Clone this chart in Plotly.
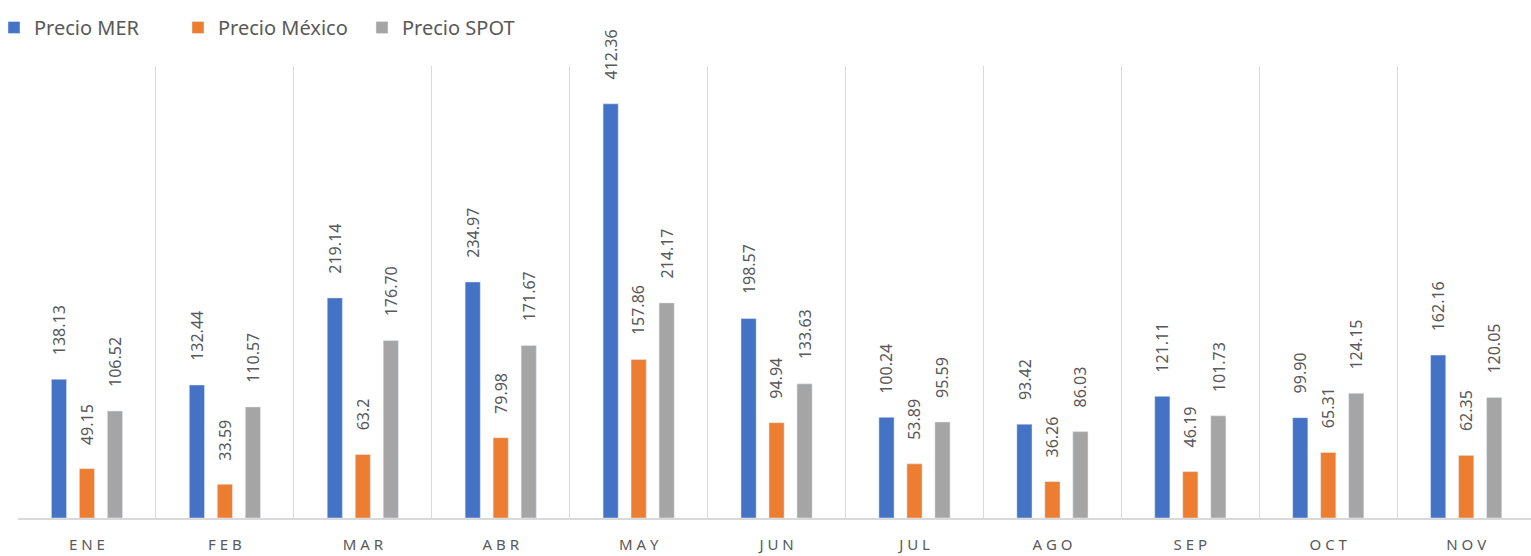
import plotly.graph_objects as go

months = ["ENE", "FEB", "MAR", "ABR", "MAY", "JUN", "JUL", "AGO", "SEP", "OCT", "NOV"]
tick_labels = ["E N E", "F E B", "M A R", "A B R", "M A Y", "J U N", "J U L", "A G O", "S E P", "O C T", "N O V"]
precio_mer = [138.13, 132.44, 219.14, 234.97, 412.36, 198.57, 100.24, 93.42, 121.11, 99.90, 162.16]
precio_mexico = [49.15, 33.59, 63.2, 79.98, 157.86, 94.94, 53.89, 36.26, 46.19, 65.31, 62.35]
precio_spot = [106.52, 110.57, 176.70, 171.67, 214.17, 133.63, 95.59, 86.03, 101.73, 124.15, 120.05]
mer_text = ["138.13", "132.44", "219.14", "234.97", "412.36", "198.57", "100.24", "93.42", "121.11", "99.90", "162.16"]
mex_text = ["49.15", "33.59", "63.2", "79.98", "157.86", "94.94", "53.89", "36.26", "46.19", "65.31", "62.35"]
spot_text = ["106.52", "110.57", "176.70", "171.67", "214.17", "133.63", "95.59", "86.03", "101.73", "124.15", "120.05"]

series = [
    ("Precio MER", precio_mer, mer_text, "#4472C4"),
    ("Precio México", precio_mexico, mex_text, "#ED7D31"),
    ("Precio SPOT", precio_spot, spot_text, "#A5A5A5"),
]

bar_w = 0.11
step = 0.203
fig = go.Figure()
annotations = []
for i, (name, vals, texts, color) in enumerate(series):
    center_off = (i - 1) * step
    fig.add_trace(go.Bar(
        name=name, x=months, y=vals, marker_color=color,
        width=bar_w, offset=center_off - bar_w / 2,
    ))
    for j, (v, t) in enumerate(zip(vals, texts)):
        annotations.append(dict(
            x=j + center_off, y=v, xref="x", yref="y", text=t,
            textangle=-90, showarrow=False, yanchor="bottom", xanchor="center",
            yshift=22, font=dict(family="Noto Sans", size=16, color="#595959"),
        ))

fig.update_layout(
    width=1531, height=556,
    margin=dict(l=18, r=0, t=66, b=38),
    paper_bgcolor="white", plot_bgcolor="white",
    barmode="overlay",
    showlegend=True,
    legend=dict(orientation="h", xref="container", yref="container",
                x=0, y=1 - 8 / 556, xanchor="left", yanchor="top",
                indentation=-6,
                font=dict(family="Noto Sans", size=20, color="#595959"),
                itemwidth=30, entrywidth=145, entrywidthmode="pixels"),
    annotations=annotations,
    font=dict(family="Noto Sans", color="#595959"),
)
fig.update_xaxes(
    type="category", categoryorder="array", categoryarray=months,
    tickvals=months, ticktext=tick_labels,
    range=[-0.5, 10.47], tickson="boundaries",
    showgrid=True, gridcolor="#D9D9D9", gridwidth=1,
    showline=True, linecolor="#D9D9D9", linewidth=1.5,
    ticks="", ticklabelstandoff=12,
    tickfont=dict(family="Noto Sans", size=15, color="#595959"),
)
fig.update_yaxes(range=[0, 450], visible=False, showgrid=False)

fig.write_html("out.html", config={"displayModeBar": False},
               post_script="document.body.style.margin='0';document.documentElement.style.margin='0';")
